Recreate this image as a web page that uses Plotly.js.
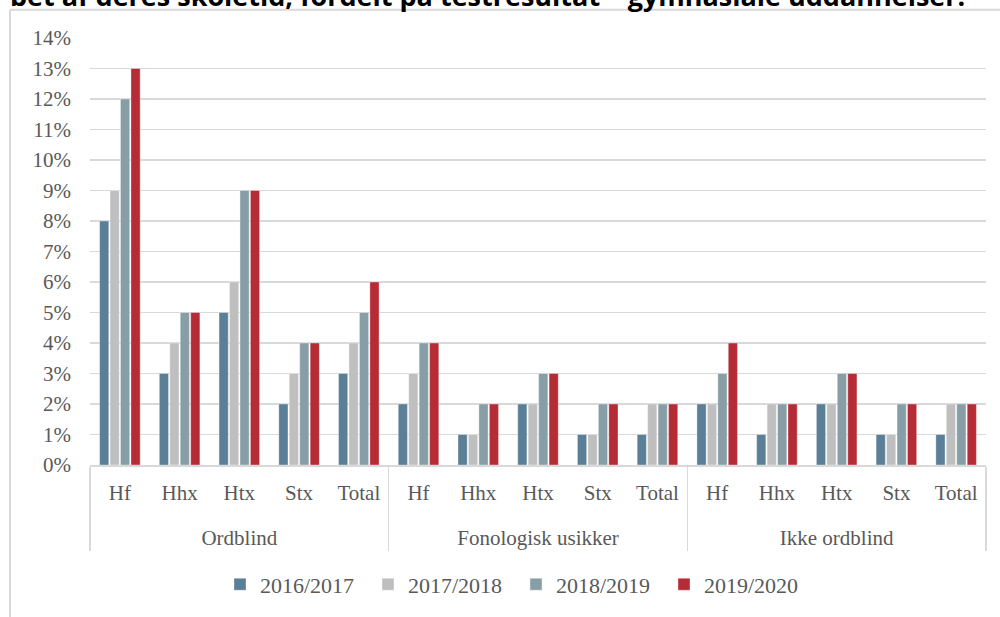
<!DOCTYPE html>
<html>
<head>
<meta charset="utf-8">
<script src="https://cdn.plot.ly/plotly-3.0.1.min.js"></script>
<style>html,body{margin:0;padding:0;background:#fff;}#chart{width:1000px;height:617px;}</style>
</head>
<body>
<div id="chart"></div>
<script>
const groups = ["Ordblind", "Fonologisk usikker", "Ikke ordblind"];
const subcats = ["Hf", "Hhx", "Htx", "Stx", "Total"];
const years = ["2016/2017", "2017/2018", "2018/2019", "2019/2020"];
const s2016 = [8, 3, 5, 2, 3, 2, 1, 2, 1, 1, 2, 1, 2, 1, 1];
const s2017 = [9, 4, 6, 3, 4, 3, 1, 2, 1, 2, 2, 2, 2, 1, 2];
const s2018 = [12, 5, 9, 4, 5, 4, 2, 3, 2, 2, 3, 2, 3, 2, 2];
const s2019 = [13, 5, 9, 4, 6, 4, 2, 3, 2, 2, 4, 2, 3, 2, 2];
const yTicks = [0,1,2,3,4,5,6,7,8,9,10,11,12,13,14];
const titleText = "bet af deres skoletid, fordelt på testresultat – gymnasiale uddannelser.";

const colors = ["#5a7f96", "#bfbfbf", "#889ea7", "#b52c36"];
const series = [s2016, s2017, s2018, s2019];

// outer labels get a leading blank line so they sit lower, as in the reference
const outer = [], inner = [];
groups.forEach(g => subcats.forEach(s => { outer.push("<br>" + g); inner.push(s); }));

const traces = series.map((vals, i) => ({
  type: "bar",
  name: years[i],
  x: [outer, inner],
  y: vals,
  marker: {color: colors[i], line: {color: "rgba(255,255,255,0.6)", width: 0.6}},
  hoverinfo: "x+y+name"
}));

const fontFam = "Liberation Serif, Times New Roman, serif";
const L = 90, R = 986, T = 38, B = 467;
const W = R - L, H = B - T;
const px = x => (x - L) / W;
const py = y => (B - y) / H;

const layout = {
  width: 1000, height: 617,
  margin: {l: L, r: 1000 - R, t: T, b: 617 - B},
  paper_bgcolor: "#ffffff", plot_bgcolor: "#ffffff",
  font: {family: fontFam, color: "#595959", size: 20},
  barmode: "group",
  bargap: 0.3,
  bargroupgap: 0.12,
  showlegend: true,
  legend: {
    orientation: "h", x: px(516), xanchor: "center", y: py(587), yanchor: "middle",
    font: {family: fontFam, size: 22, color: "#595959"},
    entrywidth: 103,
    traceorder: "normal"
  },
  xaxis: {
    type: "multicategory",
    showline: true, linecolor: "#d9d9d9", linewidth: 1.5,
    showdividers: true, dividercolor: "#d9d9d9", dividerwidth: 1.5,
    tickfont: {family: fontFam, size: 21, color: "#595959"},
    ticklabelstandoff: 8,
    ticks: "", showgrid: false, zeroline: false
  },
  yaxis: {
    range: [0, 14],
    tickvals: yTicks,
    ticktext: yTicks.map(v => v + "%"),
    showgrid: true, gridcolor: "#d9d9d9", gridwidth: 1.5,
    zeroline: false, showline: false,
    ticks: "", ticklabelstandoff: 18,
    tickfont: {family: fontFam, size: 21, color: "#595959"}
  },
  shapes: [
    {type: "line", xref: "paper", yref: "paper", x0: px(10), x1: px(1005), y0: py(9.5), y1: py(9.5), line: {color: "#d9d9d9", width: 2}},
    {type: "line", xref: "paper", yref: "paper", x0: px(10), x1: px(10), y0: py(9.5), y1: py(625), line: {color: "#d9d9d9", width: 2}}
  ],
  annotations: [
    {text: "<b>" + titleText + "</b>", xref: "paper", yref: "paper", x: px(8), xanchor: "left",
     y: py(-4.5), yanchor: "middle", showarrow: false,
     font: {family: "Open Sans, sans-serif", size: 27, color: "#000000"}}
  ]
};

Plotly.newPlot("chart", traces, layout, {displayModeBar: false, staticPlot: true});
</script>
</body>
</html>
